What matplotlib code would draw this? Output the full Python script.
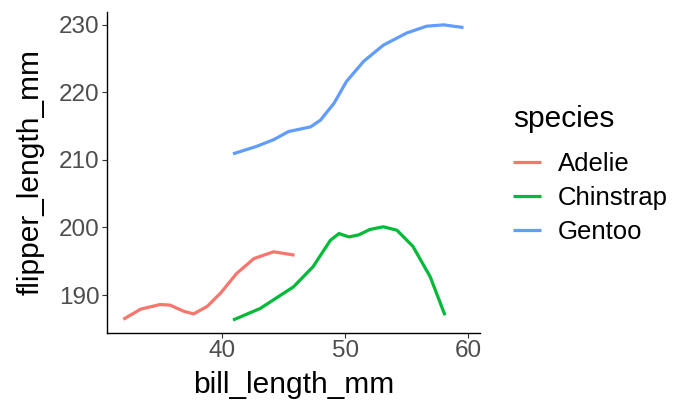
import matplotlib.pyplot as plt

plt.rcParams['font.family'] = ['Liberation Sans', 'DejaVu Sans']

species = ['Adelie', 'Chinstrap', 'Gentoo']
colors = ['#F8766D', '#00BA38', '#619CFF']

# smoothed curves
adelie_x = [32.0, 33.4, 35.0, 35.8, 36.9, 37.7, 38.8, 39.9, 41.2, 42.6, 44.2, 45.9]
adelie_y = [186.4, 187.9, 188.6, 188.5, 187.6, 187.2, 188.3, 190.3, 193.2, 195.4, 196.4, 195.9]

chinstrap_x = [40.9, 43.1, 45.8, 47.4, 48.8, 49.5, 50.3, 51.1, 52.0, 53.1, 54.2, 55.5, 56.9, 58.1]
chinstrap_y = [186.3, 188.0, 191.2, 194.2, 198.1, 199.1, 198.6, 198.9, 199.7, 200.1, 199.6, 197.2, 192.7, 187.0]

gentoo_x = [40.9, 42.8, 44.2, 45.4, 47.2, 48.0, 49.1, 50.1, 51.5, 53.1, 55.0, 56.6, 58.0, 59.6]
gentoo_y = [210.9, 212.0, 213.0, 214.2, 214.9, 215.9, 218.4, 221.6, 224.6, 227.0, 228.8, 229.8, 230.0, 229.6]

xs = [adelie_x, chinstrap_x, gentoo_x]
ys = [adelie_y, chinstrap_y, gentoo_y]

fig = plt.figure(figsize=(6.81, 4.01), dpi=100)
ax = fig.add_axes([0.157, 0.170, 0.548, 0.800])

for name, c, x, y in zip(species, colors, xs, ys):
    ax.plot(x, y, color=c, lw=2.3, label=name, solid_capstyle='butt', solid_joinstyle='round')

ax.set_xlim(30.67, 60.95)
ax.set_ylim(184.4, 231.9)
ax.set_xticks([40, 50, 60])
ax.set_yticks([190, 200, 210, 220, 230])
ax.tick_params(labelsize=17.5, labelcolor='#4D4D4D', length=3.5, width=0.8, color='#333333', pad=2)
for s in ['top', 'right']:
    ax.spines[s].set_visible(False)
for s in ['left', 'bottom']:
    ax.spines[s].set_linewidth(1.0)
ax.set_xlabel('bill_length_mm', fontsize=21.5, labelpad=6)
ax.set_ylabel('flipper_length_mm', fontsize=21.5, labelpad=10)

# legend title placed separately to get the ggplot gap
fig.text(0.753, 1 - 119 / 401, 'species', fontsize=21.5, va='center', ha='left')
leg = ax.legend(loc='upper left', bbox_to_anchor=(0.753, 0.620),
                bbox_transform=fig.transFigure, borderpad=0, borderaxespad=0,
                frameon=False, fontsize=18.5, handlelength=1.1,
                handletextpad=0.65, labelspacing=0.38)

fig.savefig('out.png', dpi=100)
